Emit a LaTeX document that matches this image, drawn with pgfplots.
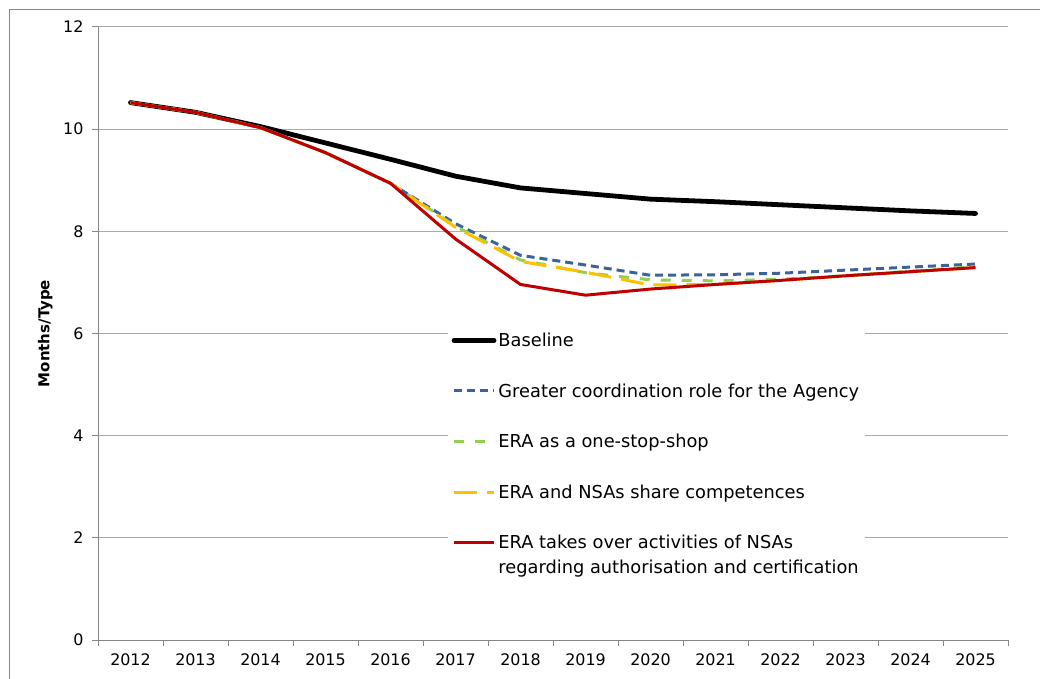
\documentclass[border=0pt]{standalone}
\usepackage{fontspec}
\setmainfont{DejaVu Sans}
\usepackage{pgfplots}
\usepackage{pgfplotstable}
\pgfplotsset{compat=1.18}
\definecolor{gridgray}{RGB}{170,170,170}
\definecolor{axgray}{RGB}{134,134,134}
\definecolor{sblue}{RGB}{58,100,155}
\definecolor{sgreen}{RGB}{146,208,80}
\definecolor{syellow}{RGB}{255,192,0}
\definecolor{sred}{RGB}{192,0,0}

\pgfplotstableread{
x base blue green yellow red
0  10.52 10.52 10.52 10.52 10.52
1  10.33 10.33 10.33 10.33 10.33
2  10.05 10.03 10.03 10.03 10.03
3  9.73  9.54  9.54  9.54  9.54
4  9.41  8.94  8.94  8.94  8.94
5  9.08  8.15  8.10  8.08  7.85
6  8.85  7.53  7.44  7.41  6.96
7  8.74  7.34  7.19  7.20  6.75
8  8.63  7.14  7.05  6.95  6.87
9  8.58  7.15  7.03  6.96  6.96
10 8.52  7.18  7.06  7.04  7.04
11 8.46  7.24  7.13  7.13  7.13
12 8.40  7.30  7.22  7.21  7.21
13 8.35  7.36  7.31  7.29  7.29
}\datatable

\begin{document}
\begin{tikzpicture}[x=1pt,y=1pt]
\useasboundingbox (-98,-39) rectangle (942,640);
\draw[axgray, line width=1pt] (-88,-39) -- (-88,630) -- (942,630);
\begin{axis}[
  at={(0,0)}, anchor=south west,
  scale only axis, width=910pt, height=613pt,
  xmin=-0.5, xmax=13.5, ymin=0, ymax=12,
  xtick={0,...,13},
  xticklabels={2012,2013,2014,2015,2016,2017,2018,2019,2020,2021,2022,2023,2024,2025},
  minor xtick={-0.5,0.5,...,13.5},
  ytick={0,2,4,6,8,10,12},
  axis x line*=bottom, axis y line*=left,
  ymajorgrids,
  major grid style={gridgray, line width=1pt},
  axis line style={axgray, line width=1pt},
  tick align=outside,
  major tick length=6pt, minor tick length=6pt,
  major x tick style={draw=none},
  minor x tick style={axgray, line width=1pt},
  major y tick style={axgray, line width=1pt},
  /pgf/number format/assume math mode=true,
  tick label style={font=\fontsize{15.9}{18}\selectfont, black},
  xticklabel style={yshift=-4pt},
  yticklabel style={xshift=-5pt},
  ylabel={\bfseries Months/Type},
  ylabel style={font=\fontsize{15}{17}\selectfont, at={(axis description cs:-0.058,0.5)}, anchor=center, rotate=0},
  legend cell align=left,
  legend style={at={(0.384,0.511)}, anchor=north west, draw=none, fill=white,
    font=\fontsize{17.8}{25}\selectfont, row sep=31.5pt, inner sep=4pt,
    /tikz/every odd column/.append style={column sep=0pt}},
  legend image code/.code={\draw[#1] (0pt,0pt) -- (40pt,0pt);},
]
\addplot[black, line width=4.8pt, line cap=round] table[x=x,y=base] {\datatable};
\addlegendentry{Baseline}
\addplot[sblue, line width=3pt, dash pattern=on 8pt off 5pt] table[x=x,y=blue] {\datatable};
\addlegendentry{Greater coordination role for the Agency}
\addplot[sgreen, line width=3pt, dash pattern=on 10pt off 11pt] table[x=x,y=green] {\datatable};
\addlegendentry{ERA as a one-stop-shop}
\addplot[syellow, line width=3pt, dash pattern=on 23pt off 10pt] table[x=x,y=yellow] {\datatable};
\addlegendentry{ERA and NSAs share competences}
\addplot[sred, line width=3pt] table[x=x,y=red] {\datatable};
\addlegendentry{\vphantom{Ag}\smash{\begin{tabular}[t]{@{}l@{}}ERA takes over activities of NSAs\\regarding authorisation and certification\end{tabular}}}
\end{axis}
\end{tikzpicture}
\end{document}
